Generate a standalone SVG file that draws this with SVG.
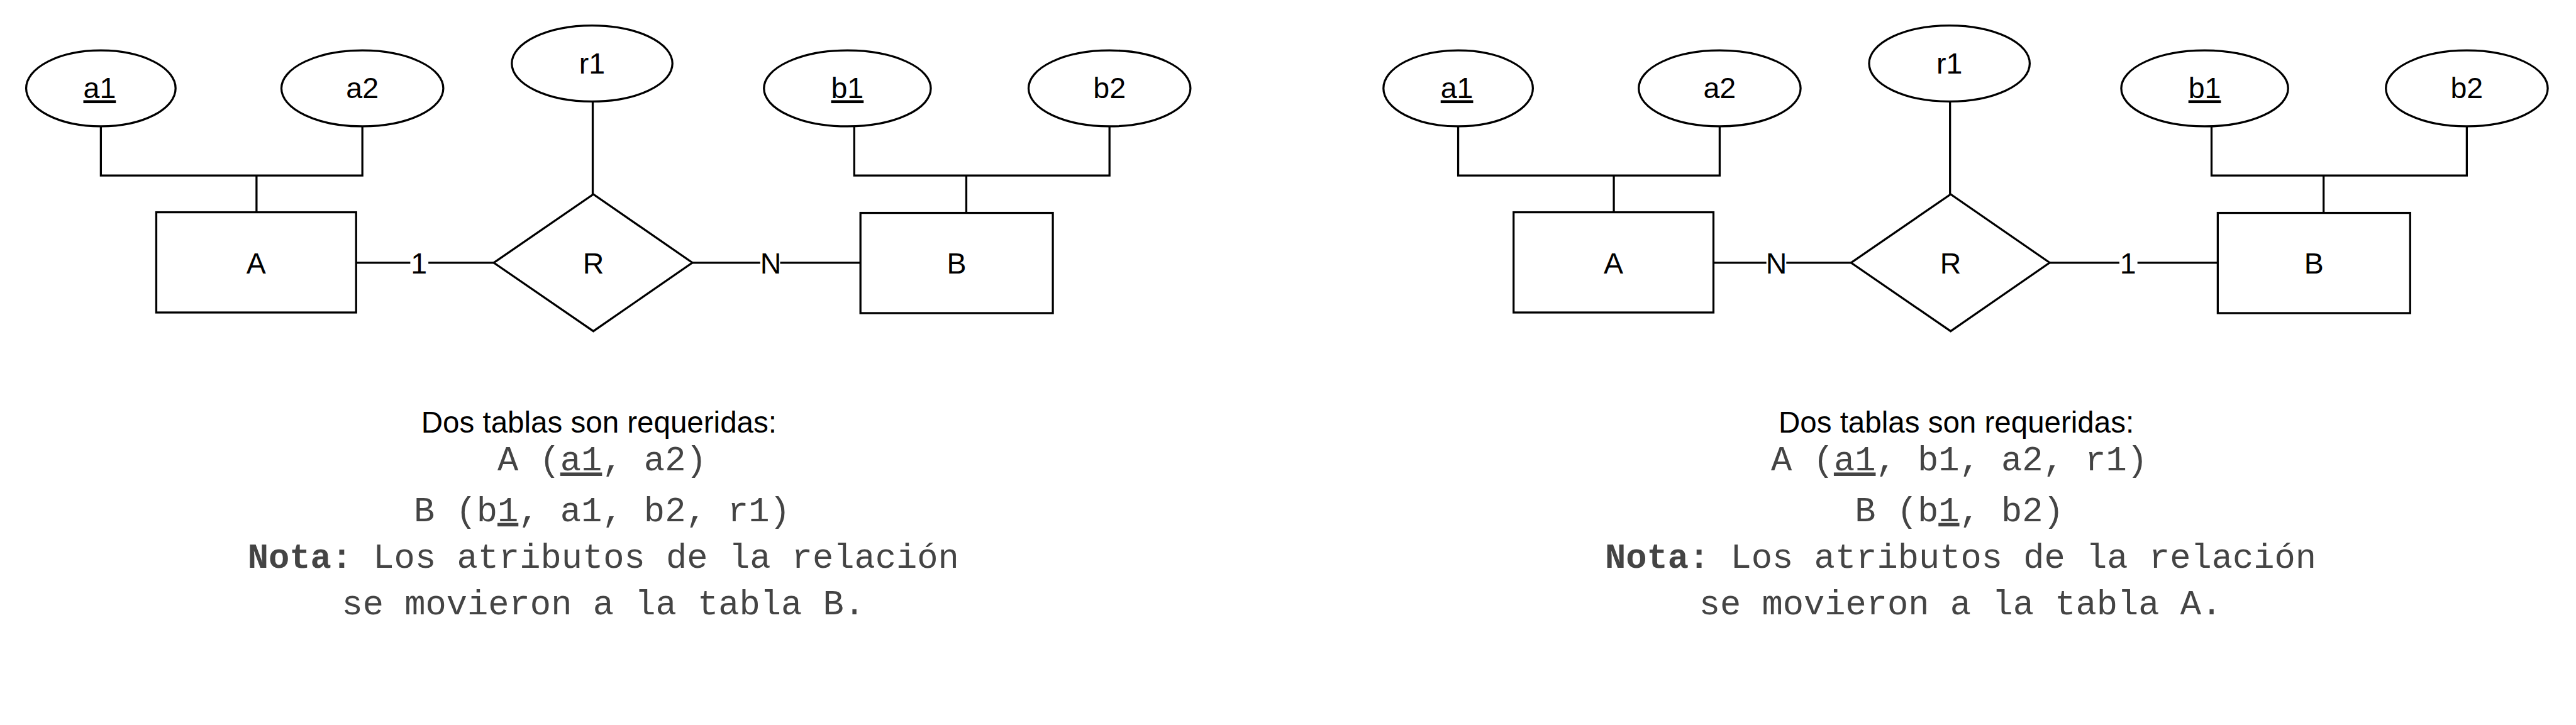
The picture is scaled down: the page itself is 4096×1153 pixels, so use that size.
<svg xmlns="http://www.w3.org/2000/svg" width="4096" height="1153" viewBox="0 0 4096 1153">
<style>
.shape{fill:#fff;stroke:#000;stroke-width:3.3}
.conn{fill:none;stroke:#000;stroke-width:3.3}
.lbl{font-family:"Liberation Sans",Arial,sans-serif;font-size:47px;fill:#000;text-anchor:middle}
.hdr{font-family:"Liberation Sans",Arial,sans-serif;font-size:48px;fill:#000;text-anchor:middle}
.mono{font-family:"Liberation Mono","Courier New",monospace;font-size:56px;fill:#444;text-anchor:middle}
.u{text-decoration:underline}
.bg{fill:#fff;stroke:none}
</style>
<rect width="4096" height="1153" fill="#fff"/>
<g transform="scale(0.99)">
<!-- LEFT DIAGRAM -->
<g id="left-connectors">
<path class="conn" d="M162 203V282H582V203M412 282V341"/>
<path class="conn" d="M1372 203V282H1782V203M1552 282V342"/>
<path class="conn" d="M952 163V312"/>
<path class="conn" d="M572 422H793"/>
<path class="conn" d="M1112 422H1382"/>
<rect class="bg" x="659" y="400" width="29" height="44"/>
<text class="lbl" x="673" y="439">1</text>
<rect class="bg" x="1221" y="400" width="32" height="44"/>
<text class="lbl" x="1238" y="439">N</text>
</g>
<g id="left-a1"><ellipse class="shape" cx="162" cy="142" rx="120" ry="61"/><text class="lbl u" x="160" y="158">a1</text></g>
<g id="left-a2"><ellipse class="shape" cx="582" cy="142" rx="130" ry="61"/><text class="lbl" x="582" y="158">a2</text></g>
<g id="left-r1"><ellipse class="shape" cx="951" cy="102" rx="129" ry="61"/><text class="lbl" x="951" y="118">r1</text></g>
<g id="left-b1"><ellipse class="shape" cx="1361" cy="142" rx="134" ry="61"/><text class="lbl u" x="1361" y="158">b1</text></g>
<g id="left-b2"><ellipse class="shape" cx="1782" cy="142" rx="130" ry="61"/><text class="lbl" x="1782" y="158">b2</text></g>
<g id="left-A"><rect class="shape" x="251" y="341" width="321" height="161"/><text class="lbl" x="411.5" y="439">A</text></g>
<g id="left-R"><polygon class="shape" points="793,422 953,312 1112,422 953,532"/><text class="lbl" x="953" y="439">R</text></g>
<g id="left-B"><rect class="shape" x="1382" y="342" width="309" height="161"/><text class="lbl" x="1536.5" y="439">B</text></g>
<g id="left-notes">
<text class="hdr" x="962" y="695">Dos tablas son requeridas:</text>
<text class="mono" x="967" y="756" xml:space="preserve">A (<tspan class="u">a1</tspan>, a2)</text>
<text class="mono" x="967" y="837" xml:space="preserve">B (b<tspan class="u">1</tspan>, a1, b2, r1)</text>
<text class="mono" x="969" y="912" xml:space="preserve"><tspan font-weight="bold">Nota:</tspan> Los atributos de la relación</text>
<text class="mono" x="969" y="987">se movieron a la tabla B.</text>
</g>
<!-- RIGHT DIAGRAM -->
<g id="right-connectors">
<path class="conn" d="M2342 203V282H2762V203M2592 282V341"/>
<path class="conn" d="M3552 203V282H3962V203M3732 282V342"/>
<path class="conn" d="M3132 163V312"/>
<path class="conn" d="M2752 422H2973"/>
<path class="conn" d="M3292 422H3562"/>
<rect class="bg" x="2837" y="400" width="32" height="44"/>
<text class="lbl" x="2853" y="439">N</text>
<rect class="bg" x="3404" y="400" width="29" height="44"/>
<text class="lbl" x="3418" y="439">1</text>
</g>
<g id="right-a1"><ellipse class="shape" cx="2342" cy="142" rx="120" ry="61"/><text class="lbl u" x="2340" y="158">a1</text></g>
<g id="right-a2"><ellipse class="shape" cx="2762" cy="142" rx="130" ry="61"/><text class="lbl" x="2762" y="158">a2</text></g>
<g id="right-r1"><ellipse class="shape" cx="3131" cy="102" rx="129" ry="61"/><text class="lbl" x="3131" y="118">r1</text></g>
<g id="right-b1"><ellipse class="shape" cx="3541" cy="142" rx="134" ry="61"/><text class="lbl u" x="3541" y="158">b1</text></g>
<g id="right-b2"><ellipse class="shape" cx="3962" cy="142" rx="130" ry="61"/><text class="lbl" x="3962" y="158">b2</text></g>
<g id="right-A"><rect class="shape" x="2431" y="341" width="321" height="161"/><text class="lbl" x="2591.5" y="439">A</text></g>
<g id="right-R"><polygon class="shape" points="2973,422 3133,312 3292,422 3133,532"/><text class="lbl" x="3133" y="439">R</text></g>
<g id="right-B"><rect class="shape" x="3562" y="342" width="309" height="161"/><text class="lbl" x="3716.5" y="439">B</text></g>
<g id="right-notes">
<text class="hdr" x="3142" y="695">Dos tablas son requeridas:</text>
<text class="mono" x="3147" y="756" xml:space="preserve">A (<tspan class="u">a1</tspan>, b1, a2, r1)</text>
<text class="mono" x="3147" y="837" xml:space="preserve">B (b<tspan class="u">1</tspan>, b2)</text>
<text class="mono" x="3149" y="912" xml:space="preserve"><tspan font-weight="bold">Nota:</tspan> Los atributos de la relación</text>
<text class="mono" x="3149" y="987">se movieron a la tabla A.</text>
</g>
</g>
</svg>
